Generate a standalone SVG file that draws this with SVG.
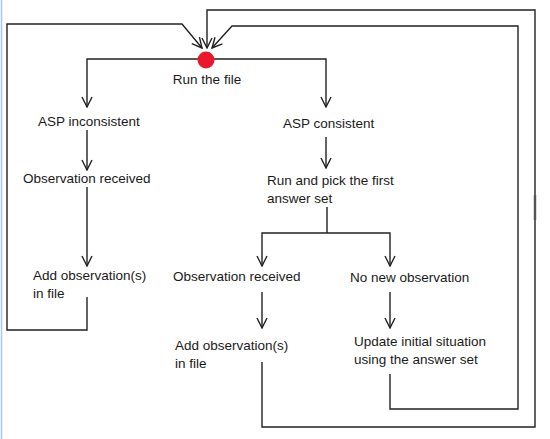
<svg xmlns="http://www.w3.org/2000/svg" width="550" height="439" viewBox="0 0 550 439">
<style>
  .lbl{font-family:"Liberation Sans",Arial,sans-serif;font-size:13.5px;fill:#1a1a1a}
  .c{fill:none;stroke:#222;stroke-width:1.4;stroke-linejoin:miter}
  .a{marker-end:url(#arr)}
</style>
<defs>
  <marker id="arr" viewBox="0 0 12 12" refX="11" refY="6" markerWidth="12" markerHeight="12" markerUnits="userSpaceOnUse" orient="auto">
    <path d="M1,1 L11,6 L1,11" fill="none" stroke="#222" stroke-width="1.4"/>
  </marker>
</defs>
<rect width="550" height="439" fill="#ffffff"/>
<line x1="1.5" y1="0" x2="1.5" y2="439" stroke="#a8c8ec" stroke-width="1.5"/>
<g id="connectors">
  <polyline class="c a" points="262,362 262,427 535,427 535,10 207,10 207,48"/>
  <polyline class="c a" points="390,374 390,409 518,409 518,26 232,26 212,48"/>
  <polyline class="c a" points="87,297 87,330 7,330 7,24 182,24 202,48"/>
  <polyline class="c a" points="206,59 87,59 87,107"/>
  <polyline class="c a" points="206,59 326,59 326,107"/>
  <line class="c a" x1="87" y1="130" x2="87" y2="170"/>
  <line class="c a" x1="87" y1="187" x2="87" y2="266"/>
  <line class="c a" x1="326" y1="137" x2="326" y2="168"/>
  <line class="c" x1="327" y1="207" x2="327" y2="233"/>
  <polyline class="c a" points="327,233 262,233 262,266"/>
  <polyline class="c a" points="327,233 390,233 390,266"/>
  <line class="c a" x1="262" y1="292" x2="262" y2="328"/>
  <line class="c a" x1="390" y1="292" x2="390" y2="328"/>
  <line x1="535" y1="195" x2="535" y2="220" stroke="#555" stroke-width="2.4"/>
</g>
<g id="start">
  <circle cx="206" cy="60" r="8.5" fill="#e8192c"/>
  <text class="lbl" x="207" y="84" text-anchor="middle">Run the file</text>
</g>
<g id="asp-inconsistent"><text class="lbl" x="38" y="126">ASP inconsistent</text></g>
<g id="asp-consistent"><text class="lbl" x="283" y="128">ASP consistent</text></g>
<g id="obs-received-left"><text class="lbl" x="23" y="183">Observation received</text></g>
<g id="run-pick"><text class="lbl" x="267" y="185">Run and pick the first</text><text class="lbl" x="267" y="203">answer set</text></g>
<g id="add-obs-left"><text class="lbl" x="33" y="280">Add observation(s)</text><text class="lbl" x="33" y="298">in file</text></g>
<g id="obs-received-right"><text class="lbl" x="173" y="281">Observation received</text></g>
<g id="no-new-obs"><text class="lbl" x="350" y="282">No new observation</text></g>
<g id="add-obs-right"><text class="lbl" x="175" y="350">Add observation(s)</text><text class="lbl" x="175" y="368">in file</text></g>
<g id="update"><text class="lbl" x="354" y="346">Update initial situation</text><text class="lbl" x="354" y="364">using the answer set</text></g>
</svg>
